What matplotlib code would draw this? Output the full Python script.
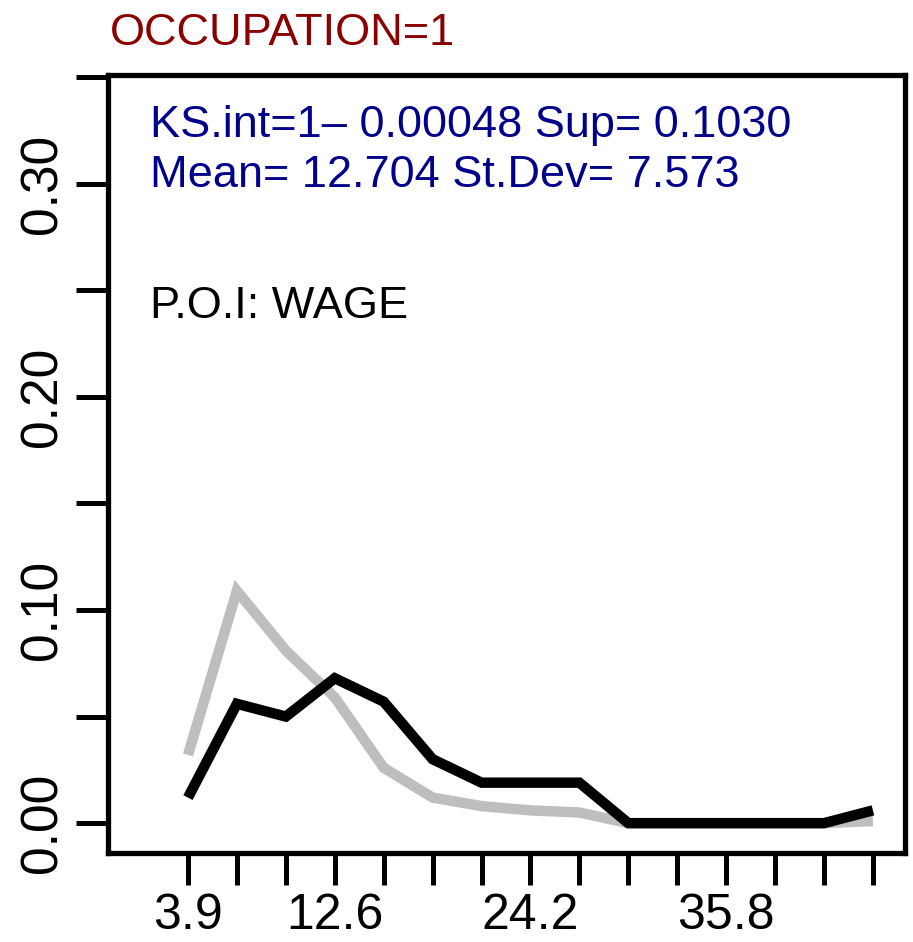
import matplotlib
matplotlib.use("Agg")
import matplotlib.pyplot as plt

plt.rcParams['font.family'] = ['Liberation Sans', 'DejaVu Sans']

# wage class midpoints and the two density curves
wage = [3.9, 6.8, 9.7, 12.6, 15.5, 18.4, 21.3, 24.2, 27.1, 30.0, 32.9, 35.8, 38.7, 41.6, 44.5]
dens_all = [0.032, 0.109, 0.081, 0.059, 0.026, 0.012, 0.008, 0.006, 0.005, 0.0, 0.0, 0.0, 0.0, 0.0, 0.001]
dens_occ = [0.012, 0.056, 0.050, 0.068, 0.057, 0.030, 0.019, 0.019, 0.019, 0.0, 0.0, 0.0, 0.0, 0.0, 0.006]

xlabels = ["3.9", "", "", "12.6", "", "", "", "24.2", "", "", "", "35.8", "", "", ""]
yticks = [0.0, 0.05, 0.10, 0.15, 0.20, 0.25, 0.30, 0.35]
ylabels = ["0.00", "", "0.10", "", "0.20", "", "0.30", ""]

W, H = 913, 942
fig = plt.figure(figsize=(W / 100, H / 100), dpi=100)
ax = fig.add_axes([108 / W, 1 - 853 / H, (905 - 108) / W, (853 - 75) / H])

ax.plot(wage, dens_all, color="#BEBEBE", lw=7.5, solid_joinstyle="miter", solid_capstyle="butt")
ax.plot(wage, dens_occ, color="black", lw=7.5, solid_joinstyle="miter", solid_capstyle="butt")

ax.set_xlim(-0.84, 46.4)
ax.set_ylim(-0.014, 0.351)

ax.set_xticks(wage)
ax.set_xticklabels(xlabels, fontsize=36)
ax.set_yticks(yticks)
ax.set_yticklabels(ylabels, fontsize=37, rotation=90, va="center")
ax.tick_params(length=23, width=3.6, direction="out")
ax.tick_params(axis="x", pad=6)
ax.tick_params(axis="y", pad=6)

for s in ax.spines.values():
    s.set_linewidth(3.8)

fig.text(110 / W, 1 - 45 / H, "OCCUPATION=1", color="#8B0000", fontsize=32.5, va="baseline")
fig.text(150 / W, 1 - 137 / H, "KS.int=1\u2013 0.00048 Sup= 0.1030", color="#00008B", fontsize=32.5, va="baseline")
fig.text(150 / W, 1 - 187 / H, "Mean= 12.704 St.Dev= 7.573", color="#00008B", fontsize=32.5, va="baseline")
fig.text(150 / W, 1 - 318 / H, "P.O.I: WAGE", color="black", fontsize=32.5, va="baseline")

fig.savefig("out.png", dpi=100)
